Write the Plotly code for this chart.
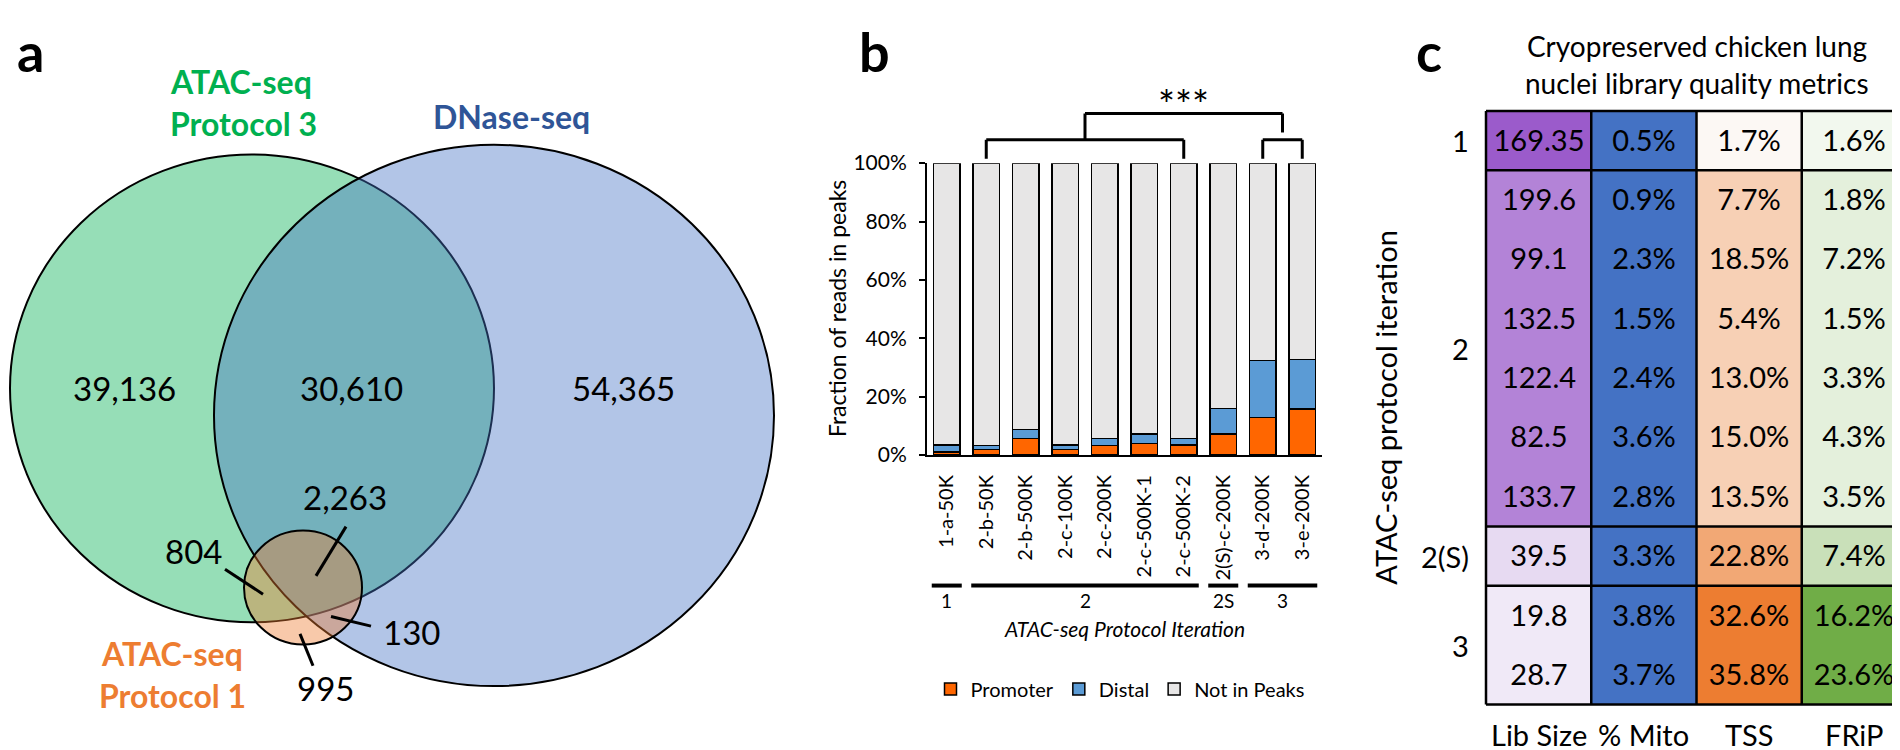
import plotly.graph_objects as go

W, H = 1900, 750
FONT = "Lato"


def px(x):
    return x / W


def py(y):
    return 1 - y / H


# ---------------- data ----------------
# Panel a: Venn counts
venn_counts = [39136, 30610, 54365, 2263, 804, 130, 995]
venn_sets = ["ATAC-seq Protocol 3", "DNase-seq", "ATAC-seq Protocol 1"]

# Panel b: fraction of reads in peaks (%)
categories = ["1-a-50K", "2-b-50K", "2-b-500K", "2-c-100K", "2-c-200K",
              "2-c-500K-1", "2-c-500K-2", "2(S)-c-200K", "3-d-200K", "3-e-200K"]
promoter = [1.0, 1.9, 5.6, 1.9, 3.2, 4.0, 3.4, 7.3, 12.8, 15.8]
distal = [2.4, 1.3, 3.1, 1.5, 2.5, 3.3, 2.3, 8.6, 19.6, 17.0]
not_in_peaks = [96.6, 96.8, 91.3, 96.6, 94.3, 92.7, 94.3, 84.1, 67.6, 67.2]
y_ticks = [0, 20, 40, 60, 80, 100]
y_ticktext = ["0%", "20%", "40%", "60%", "80%", "100%"]
protocol_groups = ["1", "2", "2S", "3"]

# Panel c: library quality metrics
row_groups = ["1", "2", "2", "2", "2", "2", "2", "2(S)", "3", "3"]
group_labels = ["1", "2", "2(S)", "3"]
lib_size = [169.35, 199.6, 99.1, 132.5, 122.4, 82.5, 133.7, 39.5, 19.8, 28.7]
mito = [0.5, 0.9, 2.3, 1.5, 2.4, 3.6, 2.8, 3.3, 3.8, 3.7]
tss = [1.7, 7.7, 18.5, 5.4, 13.0, 15.0, 13.5, 22.8, 32.6, 35.8]
frip = [1.6, 1.8, 7.2, 1.5, 3.3, 4.3, 3.5, 7.4, 16.2, 23.6]
metrics = ["Lib Size", "% Mito", "TSS", "FRiP"]

fig = go.Figure()
shapes = []
ann = []


def text(x, y, s, size, color="black", bold=False, italic=False, angle=0,
         xanchor="center", yanchor="middle"):
    f = dict(family=FONT, size=size, color=color)
    if bold:
        f["weight"] = "bold"
    if italic:
        f["style"] = "italic"
    ann.append(dict(x=px(x), y=py(y), xref="paper", yref="paper", text=s,
                    showarrow=False, font=f, textangle=angle,
                    xanchor=xanchor, yanchor=yanchor))


def line(x0, y0, x1, y1, width=3, color="black"):
    shapes.append(dict(type="line", xref="paper", yref="paper",
                       x0=px(x0), y0=py(y0), x1=px(x1), y1=py(y1),
                       line=dict(color=color, width=width)))


# ---------------- panel a: Venn ----------------
circles = [
    (244, 379, 242, "rgba(0,176,80,0.41)"),
    (486, 407, 280, "rgba(68,114,196,0.41)"),
    (295, 585, 59, "rgba(237,125,49,0.41)"),
]
for cx, cy, r, fc in circles:
    shapes.append(dict(type="circle", xref="paper", yref="paper",
                       x0=px(cx - r), x1=px(cx + r), y0=py(cy + r), y1=py(cy - r),
                       fillcolor=fc, line=dict(color="black", width=2)))

text(22, 30, "a", 54, bold=True)
text(233, 62, "ATAC-seq", 32, color="#00B050", bold=True)
text(235, 105, "Protocol 3", 32, color="#00B050", bold=True)
text(503, 98, "DNase-seq", 32, color="#2F5597", bold=True)
text(164, 653, "ATAC-seq", 32, color="#ED7D31", bold=True)
text(164, 697, "Protocol 1", 32, color="#ED7D31", bold=True)

count_pos = [(116, 379), (343, 379), (615, 379), (337, 491), (185, 547), (403, 631), (317, 689)]
for v, (x, y) in zip(venn_counts, count_pos):
    text(x, y, f"{v:,}", 33)

line(217, 566, 255, 592)
line(338, 522, 308, 573)
line(323, 615, 363, 625)
line(292, 633, 305, 666)

# ---------------- panel b: stacked bars ----------------
B_X0, B_X1 = 919, 1314
B_Y0, B_Y100 = 448, 146
n = len(categories)


def bx(i):
    return B_X0 + (i + 0.5) * (B_X1 - B_X0) / n


def by(v):
    return B_Y0 - v / 100 * (B_Y0 - B_Y100)


xs = list(range(n))
for name, vals, col in [("Promoter", promoter, "#FF6600"),
                        ("Distal", distal, "#5B9BD5"),
                        ("Not in Peaks", not_in_peaks, "#E7E6E6")]:
    fig.add_trace(go.Bar(x=xs, y=vals, name=name,
                         marker=dict(color=col, line=dict(color="black", width=1.5)),
                         xaxis="x", yaxis="y", hoverinfo="skip"))

# significance brackets
line(bx(1), by(101.5), bx(1), by(108))
line(bx(1), by(108), bx(6), by(108))
line(bx(6), by(108), bx(6), by(101.5))
line(bx(8), by(101.5), bx(8), by(108))
line(bx(8), by(108), bx(9), by(108))
line(bx(9), by(108), bx(9), by(101.5))
mid_a = (bx(1) + bx(6)) / 2
mid_b = (bx(8) + bx(9)) / 2
line(mid_a, by(108), mid_a, by(117))
line(mid_a, by(117), mid_b, by(117))
line(mid_b, by(117), mid_b, by(110.5))
text((mid_a + mid_b) / 2, 86, "***", 40)

# protocol group lines
half = 0.38 * (B_X1 - B_X0) / n
group_spans = [(0, 0), (1, 6), (7, 7), (8, 9)]
for lab, (a, b) in zip(protocol_groups, group_spans):
    line(bx(a) - half, 583, bx(b) + half, 583, width=4)
    text((bx(a) + bx(b)) / 2, 598, lab, 19)
text((B_X0 + B_X1) / 2, 627, "ATAC-seq Protocol Iteration", 21, italic=True)
text(829, 297, "Fraction of reads in peaks", 23, angle=-90)
text(866, 30, "b", 54, bold=True)

# ---------------- panel c: heatmap table ----------------
C_X0, C_X1 = 1478, 1899
C_Y0, C_Y1 = 92, 706


def group_means(vals):
    out = []
    for g in row_groups:
        sel = [v for v, gg in zip(vals, row_groups) if gg == g]
        out.append(sum(sel) / len(sel))
    return out


col_specs = [
    (lib_size, [f"{v:g}" for v in lib_size], ["#F0E9F7", "#9B5BCB"]),
    (mito, [f"{v:.1f}%" for v in mito], ["#4472C4", "#4472C4"]),
    (tss, [f"{v:.1f}%" for v in tss], ["#FCF8F4", "#ED7D31"]),
    (frip, [f"{v:.1f}%" for v in frip], ["#F2F8EE", "#70AD47"]),
]
rows = list(range(len(row_groups)))
for j, (vals, labels, cs) in enumerate(col_specs):
    z = group_means(vals)
    fig.add_trace(go.Heatmap(
        z=[[v] for v in z], x=[j], y=rows,
        text=[[t] for t in labels], texttemplate="%{text}",
        textfont=dict(family=FONT, size=29, color="black"),
        colorscale=[[0, cs[0]], [1, cs[1]]], showscale=False,
        xaxis="x2", yaxis="y2", hoverinfo="skip"))

# borders
for k in range(5):
    shapes.append(dict(type="line", xref="x2 domain", yref="y2 domain",
                       x0=k / 4, x1=k / 4, y0=0, y1=1, line=dict(color="black", width=2.5)))
bounds = [0]
for i in range(1, len(row_groups)):
    if row_groups[i] != row_groups[i - 1]:
        bounds.append(i)
bounds.append(len(row_groups))
for b in bounds:
    shapes.append(dict(type="line", xref="x2 domain", yref="y2 domain",
                       x0=0, x1=1, y0=1 - b / len(row_groups), y1=1 - b / len(row_groups),
                       line=dict(color="black", width=2.5)))

row_h = (C_Y1 - C_Y0) / len(row_groups)
for gi, g in enumerate(group_labels):
    idx = [i for i, gg in enumerate(row_groups) if gg == g]
    yc = C_Y0 + (idx[0] + idx[-1] + 1) / 2 * row_h
    text(1463, yc, g, 29, xanchor="right")

col_w = (C_X1 - C_X0) / len(metrics)
for j, m in enumerate(metrics):
    text(C_X0 + (j + 0.5) * col_w, 737, m, 29)

text(1689, 25, "Cryopreserved chicken lung", 28)
text(1689, 63, "nuclei library quality metrics", 28)
text(1378, 399, "ATAC-seq protocol iteration", 29, angle=-90)
text(1421, 30, "c", 54, bold=True)

fig.update_layout(
    width=W, height=H, margin=dict(l=0, r=0, t=0, b=0),
    paper_bgcolor="white", plot_bgcolor="white",
    font=dict(family=FONT, color="black"),
    barmode="stack", bargap=0.33,
    xaxis=dict(domain=[px(B_X0), px(B_X1)], range=[-0.5, n - 0.5],
               tickvals=xs, ticktext=categories, tickangle=-90,
               tickfont=dict(size=20), showline=True, linecolor="black", linewidth=2,
               ticks="", showgrid=False, zeroline=False, ticklabelstandoff=10, fixedrange=True),
    yaxis=dict(domain=[py(B_Y0), py(B_Y100)], range=[0, 100], tickvals=y_ticks,
               ticktext=y_ticktext, tickfont=dict(size=21), showline=True, linecolor="black",
               linewidth=2, ticks="outside", ticklen=6, tickwidth=2, tickcolor="black",
               showgrid=False, zeroline=False, ticklabelstandoff=8),
    xaxis2=dict(domain=[px(C_X0), px(C_X1)], range=[-0.5, 3.5], visible=False, anchor="y2"),
    yaxis2=dict(domain=[py(C_Y1), py(C_Y0)], range=[len(row_groups) - 0.5, -0.5],
                visible=False, anchor="x2"),
    legend=dict(orientation="h", x=px(1112), xanchor="center", y=py(690), yanchor="middle",
                font=dict(size=20), traceorder="normal", itemwidth=30, bgcolor="rgba(0,0,0,0)"),
    shapes=shapes, annotations=ann,
)

fig.write_html("out.html")
